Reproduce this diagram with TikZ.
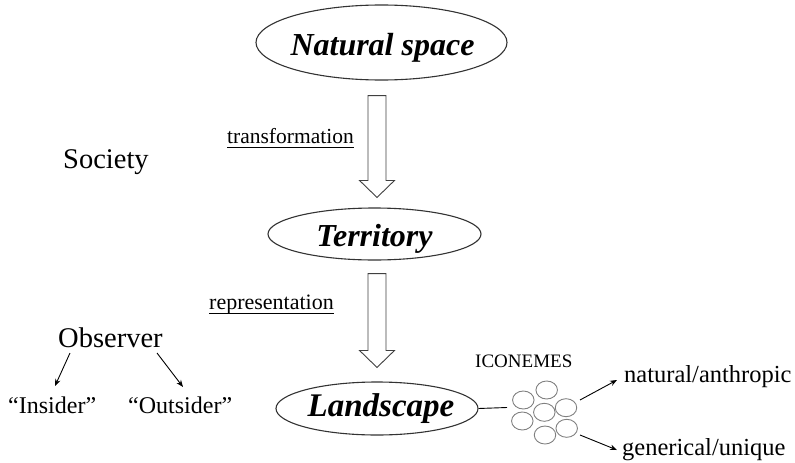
\documentclass[tikz,border=0pt]{standalone}
\usepackage{fontspec}
\setmainfont{Liberation Serif}
\usetikzlibrary{shapes.geometric,calc,arrows.meta}

% hollow block arrow pointing down, from a top centre to a tip
\newcommand\downblock[2]{%
  \draw[hollow] ($(#1)+(-9,0)$) -- ($(#1)+(9,0)$) -- ($(#2)+(9,-17)$)
    -- ($(#2)+(17.5,-17)$) -- (#2) -- ($(#2)+(-17.5,-17)$)
    -- ($(#2)+(-9,-17)$) -- cycle;}

\begin{document}
\begin{tikzpicture}[x=1pt,y=-1pt,
  stage/.style={ellipse,draw=black!80,line width=1.1pt,inner sep=0pt},
  title/.style={inner sep=0pt,anchor=base,font=\fontsize{32}{36}\selectfont\bfseries\itshape},
  plain/.style={inner sep=0pt,anchor=base west},
  hollow/.style={draw=black!75,line width=0.9pt,fill=white,line join=miter},
  icon/.style={ellipse,draw=black!50,line width=0.9pt,minimum width=21.5pt,minimum height=18pt,inner sep=0pt},
  link/.style={draw=black,line width=0.9pt,-{Stealth[length=7pt,width=5.5pt]}},
  underl/.style={draw=black,line width=0.8pt}
]
\useasboundingbox (0,0) rectangle (795,463);

% the three stages
\node[stage,minimum width=251pt,minimum height=75pt] (nat) at (381.5,42.5) {};
\node[title] (natt) at (382.5,55) {Natural space};
\node[stage,minimum width=213pt,minimum height=52pt] (terr) at (374.5,234) {};
\node[title] (terrt) at (374.5,246) {Territory};
\node[stage,minimum width=202pt,minimum height=53pt] (land) at (377,408.5) {};
\node[title,font=\fontsize{33}{36}\selectfont\bfseries\itshape] (landt) at (381,416.5) {Landscape};

% block arrows between the stages
\coordinate (a1s) at ($(nat.south)+(-4.5,15)$);
\coordinate (a1e) at ($(terr.north)+(2.5,-10)$);
\coordinate (a2s) at ($(terr.south)+(2.5,13)$);
\coordinate (a2e) at ($(land.north)+(0,-14)$);
\downblock{a1s}{a1e}
\downblock{a2s}{a2e}

% process labels
\node[plain,font=\fontsize{21.5}{24}\selectfont] (tr) at (227,143) {transformation};
\draw[underl] ($(tr.base west)+(0,4)$) -- ($(tr.base east)+(0,4)$);
\node[plain,font=\fontsize{22}{24}\selectfont] (rep) at (209,309.5) {representation};
\draw[underl] ($(rep.base west)+(0,3.5)$) -- ($(rep.base east)+(0,3.5)$);

% left side
\node[plain,font=\fontsize{28.5}{32}\selectfont] (soc) at (63,168) {Society};
\node[plain,font=\fontsize{28.5}{32}\selectfont] (obs) at (58,347) {Observer};
\node[plain,font=\fontsize{24}{28}\selectfont] (ins) at (8,413) {“Insider”};
\node[plain,font=\fontsize{24}{28}\selectfont] (outs) at (128,413) {“Outsider”};
\coordinate (o1) at (70,353);
\coordinate (o2) at (157,353);
\coordinate (i1) at (55,386);
\coordinate (i2) at (183,387);
\draw[link] (o1) -- (i1);
\draw[link] (o2) -- (i2);

% iconemes cluster
\node[plain,font=\fontsize{19}{22}\selectfont] (icl) at (475,367) {ICONEMES};
\node[icon] (c1) at (546.7,390) {};
\node[icon] (c2) at (523.3,400) {};
\node[icon] (c3) at (544.3,412.3) {};
\node[icon] (c4) at (566,407.7) {};
\node[icon] (c5) at (522.3,421) {};
\node[icon] (c6) at (566.7,428.3) {};
\node[icon] (c7) at (545,435) {};
\coordinate (lk) at (507,407.5);
\draw[line width=0.9pt] (land.east) -- (lk);

\node[plain,font=\fontsize{24.5}{28}\selectfont] (na) at (624,382) {natural/anthropic};
\node[plain,font=\fontsize{24.5}{28}\selectfont] (gu) at (622,455) {generical/unique};
\coordinate (u1) at (580,400);
\coordinate (u2) at (580,435);
\coordinate (v1) at (617,380);
\coordinate (v2) at (617,450);
\draw[link] (u1) -- (v1);
\draw[link] (u2) -- (v2);
\end{tikzpicture}
\end{document}
